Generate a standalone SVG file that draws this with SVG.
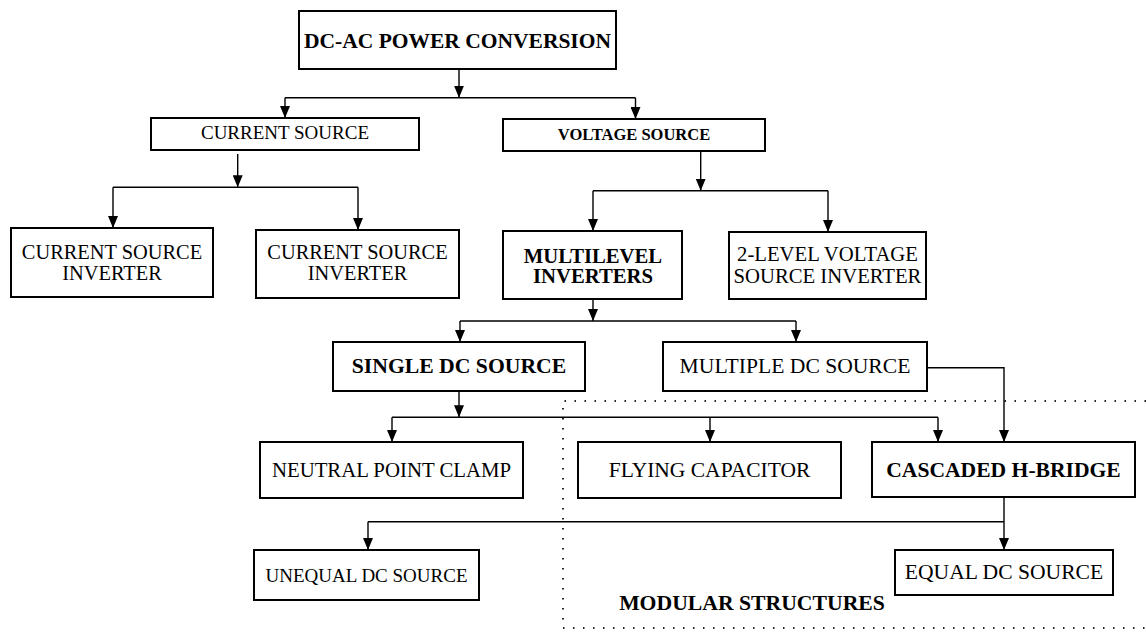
<svg xmlns="http://www.w3.org/2000/svg" width="1146" height="632" viewBox="0 0 1146 632">
<style>
.box{fill:#fff;stroke:#000;stroke-width:2}
.t{font-family:"Liberation Serif","Times New Roman",serif;fill:#000;text-anchor:middle}
.b{font-weight:bold}
.c{fill:none;stroke:#000;stroke-width:1.4}
.a{marker-end:url(#ah)}
.dot{fill:none;stroke:#222;stroke-width:2;stroke-dasharray:1.5 8.5}
</style>
<defs>
<marker id="ah" viewBox="0 0 12 10" refX="12" refY="5" markerWidth="12" markerHeight="10" markerUnits="userSpaceOnUse" orient="auto">
<path d="M0,0 L12,5 L0,10 Z" fill="#000"/>
</marker>
</defs>
<rect width="1146" height="632" fill="#fff"/>
<path class="dot" d="M1146,401 H563 V628 H1146"/>
<g id="connectors">
<path class="c a" d="M459,69 V97.7"/>
<path class="c" d="M285,97.7 H635.5"/>
<path class="c a" d="M285,97.7 V118"/>
<path class="c a" d="M635.5,97.7 V119"/>
<path class="c a" d="M237.7,154 V187.3"/>
<path class="c" d="M113,187.3 H358"/>
<path class="c a" d="M113,187.3 V228"/>
<path class="c a" d="M358,187.3 V230"/>
<path class="c a" d="M700.7,151 V190.7"/>
<path class="c" d="M593,190.7 H828"/>
<path class="c a" d="M593,190.7 V231"/>
<path class="c a" d="M828,190.7 V232"/>
<path class="c a" d="M593,299 V321"/>
<path class="c" d="M460,321 H796"/>
<path class="c a" d="M460,321 V342"/>
<path class="c a" d="M796,321 V342"/>
<path class="c a" d="M459,391 V417.3"/>
<path class="c" d="M392,417.3 H938"/>
<path class="c a" d="M392,417.3 V442"/>
<path class="c a" d="M710,417.3 V442"/>
<path class="c a" d="M938,417.3 V442"/>
<path class="c a" d="M927,367.7 H1004 V442"/>
<path class="c a" d="M1004,497 V550"/>
<path class="c" d="M368,521.7 H1004"/>
<path class="c a" d="M368,521.7 V550"/>
</g>
<g id="n-dcac"><rect class="box" x="299" y="11" width="317" height="58"/><text class="t b" x="457.5" y="48.3" font-size="21.5">DC-AC POWER CONVERSION</text></g>
<g id="n-cs"><rect class="box" x="151" y="118" width="268" height="32"/><text class="t" x="285" y="139" font-size="19">CURRENT SOURCE</text></g>
<g id="n-vs"><rect class="box" x="503" y="119" width="262" height="32"/><text class="t b" x="634" y="140" font-size="16.5">VOLTAGE SOURCE</text></g>
<g id="n-csi1"><rect class="box" x="11" y="228" width="202" height="69"/><text class="t" x="112" y="259.3" font-size="20.4">CURRENT SOURCE</text><text class="t" x="112" y="280" font-size="20.4">INVERTER</text></g>
<g id="n-csi2"><rect class="box" x="256" y="230" width="203" height="68"/><text class="t" x="357.5" y="259.3" font-size="20.4">CURRENT SOURCE</text><text class="t" x="357.5" y="280" font-size="20.4">INVERTER</text></g>
<g id="n-ml"><rect class="box" x="503" y="231" width="179" height="68"/><text class="t b" x="593" y="262.7" font-size="20.7">MULTILEVEL</text><text class="t b" x="593" y="282.7" font-size="20.7">INVERTERS</text></g>
<g id="n-2l"><rect class="box" x="729" y="232" width="197" height="67"/><text class="t" x="827.5" y="260.7" font-size="20.7">2-LEVEL VOLTAGE</text><text class="t" x="827.5" y="282.7" font-size="20.7">SOURCE INVERTER</text></g>
<g id="n-sdc"><rect class="box" x="333" y="342" width="252" height="49"/><text class="t b" x="459" y="373.3" font-size="21.7">SINGLE DC SOURCE</text></g>
<g id="n-mdc"><rect class="box" x="663" y="342" width="264" height="49"/><text class="t" x="795" y="373.3" font-size="21.6">MULTIPLE DC SOURCE</text></g>
<g id="n-npc"><rect class="box" x="260" y="442" width="263" height="56"/><text class="t" x="391.5" y="476.7" font-size="20.8">NEUTRAL POINT CLAMP</text></g>
<g id="n-fc"><rect class="box" x="578" y="442" width="263" height="56"/><text class="t" x="709.5" y="477" font-size="21.5">FLYING CAPACITOR</text></g>
<g id="n-chb"><rect class="box" x="872" y="442" width="263" height="55"/><text class="t b" x="1003.5" y="477" font-size="21.6">CASCADED H-BRIDGE</text></g>
<g id="n-udc"><rect class="box" x="254" y="550" width="225" height="50"/><text class="t" x="366.5" y="581.7" font-size="19">UNEQUAL DC SOURCE</text></g>
<g id="n-edc"><rect class="box" x="895" y="550" width="218" height="45"/><text class="t" x="1004" y="579.3" font-size="21.6">EQUAL DC SOURCE</text></g>
<g id="n-mod"><text class="t b" x="752" y="610" font-size="21.7">MODULAR STRUCTURES</text></g>
</svg>
